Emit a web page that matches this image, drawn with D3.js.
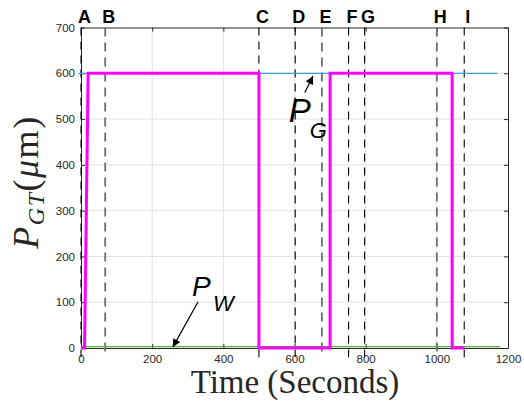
<!DOCTYPE html>
<html><head><meta charset="utf-8">
<script src="https://cdn.jsdelivr.net/npm/d3@7"></script>
<style>body{margin:0;background:#fff}svg{display:block}</style>
</head><body>
<svg id="c" width="524" height="410"></svg>
<script>
// ---- data ----
const xTicks = [0, 200, 400, 600, 800, 1000, 1200];
const yTicks = [0, 100, 200, 300, 400, 500, 600, 700];
const pgtTime  = [0, 10, 20, 500, 500, 700, 700, 1043, 1043, 1078];
const pgtValue = [0, 0, 600, 600, 0, 0, 600, 600, 0, 0];
const pgTime  = [-8, 1170];
const pgValue = [600, 600];
const pwTime  = [0, 1178];
const pwValue = [3, 3];
const eventLabels = ["A", "B", "C", "D", "E", "F", "G", "H", "I"];
const eventTimes  = [0, 68, 500, 602, 677, 752, 797, 1000, 1077];

(function () {
// ---- layout ----
const svg = d3.select("#c");
const x = d3.scaleLinear().domain([0, 1200]).range([81, 508]);
const y = d3.scaleLinear().domain([0, 700]).range([348, 27.5]);
const axisColor = "#262626";
const grayEvents = new Set(["B", "E", "H"]);
const fmt = d3.format("d");

// grid
svg.append("g").selectAll("line").data(xTicks.slice(1, -1)).join("line")
  .attr("x1", d => x(d)).attr("x2", d => x(d)).attr("y1", y(0)).attr("y2", y(700))
  .attr("stroke", "#e3e3e3").attr("stroke-width", 1);
svg.append("g").selectAll("line").data(yTicks.slice(1, -1)).join("line")
  .attr("y1", d => y(d)).attr("y2", d => y(d)).attr("x1", x(0)).attr("x2", x(1200))
  .attr("stroke", "#e3e3e3").attr("stroke-width", 1);

// axes (MATLAB box style, ticks inside on all sides)
const tl = 4;
const gBottom = svg.append("g").attr("transform", `translate(0,${y(0)})`)
  .call(d3.axisBottom(x).tickValues(xTicks).tickFormat(fmt).tickSizeInner(-tl).tickSizeOuter(0).tickPadding(7));
const gTop = svg.append("g").attr("transform", `translate(0,${y(700)})`)
  .call(d3.axisTop(x).tickValues(xTicks).tickSizeInner(-tl).tickSizeOuter(0).tickFormat(""));
const gLeft = svg.append("g").attr("transform", `translate(${x(0)},0)`)
  .call(d3.axisLeft(y).tickValues(yTicks).tickFormat(fmt).tickSizeInner(-tl).tickSizeOuter(0).tickPadding(6));
const gRight = svg.append("g").attr("transform", `translate(${x(1200)},0)`)
  .call(d3.axisRight(y).tickValues(yTicks).tickSizeInner(-tl).tickSizeOuter(0).tickFormat(""));
[gBottom, gTop, gLeft, gRight].forEach(g => {
  g.selectAll("path").attr("stroke", axisColor).attr("stroke-width", 1);
  g.selectAll("line").attr("stroke", axisColor);
  g.selectAll("text").attr("fill", axisColor)
    .style("font-family", "'Liberation Sans', Arial, sans-serif").style("font-size", "11.5px");
});

// event dashed lines
svg.append("g").selectAll("line").data(eventTimes).join("line")
  .attr("x1", d => x(d)).attr("x2", d => x(d))
  .attr("y1", y(700)).attr("y2", y(-20))
  .attr("stroke", (d, i) => grayEvents.has(eventLabels[i]) ? "#6e6e6e" : "#000")
  .attr("stroke-width", (d, i) => grayEvents.has(eventLabels[i]) ? 1.8 : 1.1)
  .attr("stroke-dasharray", (d, i) => grayEvents.has(eventLabels[i]) ? "9,6" : "8,6");
svg.append("g").selectAll("text").data(eventTimes).join("text")
  .attr("x", d => x(d) + 3.5).attr("y", 23)
  .attr("text-anchor", "middle")
  .style("font-family", "'Liberation Sans', Arial, sans-serif")
  .style("font-weight", "bold").style("font-size", "18px")
  .text((d, i) => eventLabels[i]);

// series
const line = d3.line().x(d => x(d[0])).y(d => y(d[1]));
svg.append("path").datum(pwTime.map((t, i) => [t, pwValue[i]]))
  .attr("d", line).attr("fill", "none").attr("stroke", "#4db52e").attr("stroke-width", 1.2);
svg.append("path").datum(pgTime.map((t, i) => [t, pgValue[i]]))
  .attr("d", line).attr("fill", "none").attr("stroke", "#3a9ee0").attr("stroke-width", 1.2);
svg.append("path").datum(pgtTime.map((t, i) => [t, pgtValue[i]]))
  .attr("d", line).attr("fill", "none").attr("stroke", "#ff00ff").attr("stroke-width", 3)
  .attr("stroke-linejoin", "miter");

// annotations
const defs = svg.append("defs");
defs.append("marker").attr("id", "ah").attr("viewBox", "0 0 10 10")
  .attr("refX", 10).attr("refY", 5).attr("markerWidth", 9).attr("markerHeight", 8)
  .attr("markerUnits", "userSpaceOnUse").attr("orient", "auto")
  .append("path").attr("d", "M0,0 L10,5 L0,10 z").attr("fill", "#000");
function arrow(t0, v0, t1, v1) {
  svg.append("line").attr("x1", x(t0)).attr("y1", y(v0)).attr("x2", x(t1)).attr("y2", y(v1))
    .attr("stroke", "#000").attr("stroke-width", 1.2).attr("marker-end", "url(#ah)");
}
function itext(t, v, s, size) {
  svg.append("text").attr("x", x(t)).attr("y", y(v))
    .style("font-family", "'Liberation Sans', Arial, sans-serif")
    .style("font-style", "italic").style("font-size", size + "px").text(s);
}
arrow(629, 558, 652, 594);
itext(584, 494, "P", 33);
itext(643, 459, "G", 22);
arrow(329, 101, 258, 2);
itext(312, 114, "P", 28);
itext(371, 81, "W", 22);

// axis labels
svg.append("text").attr("x", 295).attr("y", 393).attr("text-anchor", "middle")
  .style("font-family", "'Liberation Serif', 'Times New Roman', serif")
  .style("font-size", "33px").attr("fill", "#262626").text("Time (Seconds)");
const yl = svg.append("text").attr("transform", "translate(38,182) rotate(-90)")
  .attr("text-anchor", "middle")
  .style("font-family", "'Liberation Serif', 'Times New Roman', serif")
  .style("font-size", "36px").style("letter-spacing", "1.5px").attr("fill", "#262626");
yl.append("tspan").style("font-style", "italic").text("P");
yl.append("tspan").style("font-style", "italic").style("font-size", "24px").attr("dy", 6).text("GT");
yl.append("tspan").attr("dy", -6).text("(");
yl.append("tspan").style("font-style", "italic").text("μ");
yl.append("tspan").text("m)");
})();
</script>
</body></html>
